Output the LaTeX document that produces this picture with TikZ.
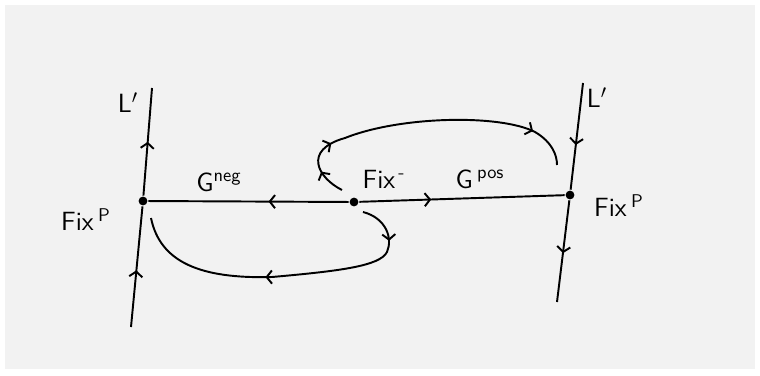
\documentclass[tikz,border=0pt]{standalone}
\usepackage{tikz}
\usetikzlibrary{arrows.meta,decorations.markings,positioning}

\begin{document}
\begin{tikzpicture}[x=0.02cm,y=-0.02cm,line width=1.1pt,
	fix/.style={circle,fill,inner sep=0pt,minimum size=5pt},
	lbl/.style={font=\sffamily\fontsize{15}{18}\selectfont,inner sep=1pt},
	mid/.style={postaction={decorate,decoration={markings,
		mark=at position #1 with {\arrow{Straight Barb[length=3pt,width=7.5pt]}}}}}]
	\useasboundingbox (0,0) rectangle (760,375);
	\fill[black!5] (5,5) rectangle (755,369);

	\node[fix] (fixPl) at (143,201) {};
	\node[fix] (fixM) at (354,202) {};
	\node[fix] (fixPr) at (570,195) {};

	\coordinate (Ltop) at (152,88);
	\coordinate (Lbot) at (131,327);
	\coordinate (Rtop) at (583,83);
	\coordinate (Rbot) at (557,302);

	\node[lbl] (Ll) at (128,103) {L$'$};
	\node[lbl] (Lr) at (597,98) {L$'$};
	\node[lbl] (fixPlLbl) at (86,220) {Fix\,\textsuperscript{P}};
	\node[lbl] (fixPrLbl) at (619,206) {Fix\,\textsuperscript{P}};
	\node[lbl] (fixMLbl) at (384,179) {Fix\textsuperscript{\,-}};
	\node[lbl] (gneg) at (219,182) {G\textsuperscript{neg}};
	\node[lbl] (gpos) at (480,179) {G\,\textsuperscript{pos}};

	\path[draw]
	(fixPl) edge [mid=0.5] (Ltop)
	(Lbot) edge [mid=0.47] (fixPl)
	(Rtop) edge [mid=0.58] (fixPr)
	(fixPr) edge [mid=0.52] (Rbot)

	(fixM) edge [mid=0.4] (fixPl)
	(fixM) edge [mid=0.35] (fixPr)
	;

	% orbit above G^pos
	\coordinate (up0) at (342,190);
	\coordinate (up1) at (557,165);
	\draw[mid=0.09,mid=0.2,mid=0.86] (up0) .. controls (318,178) and (302,150) .. (345,138)
		.. controls (400,116) and (500,114) .. (535,132)
		.. controls (552,142) and (557,155) .. (up1);

	% orbit below G^neg
	\coordinate (dn0) at (363,212);
	\coordinate (dn1) at (151,218);
	\draw[mid=0.13,mid=0.56] (dn0) .. controls (386,218) and (393,238) .. (387,252)
		.. controls (380,266) and (340,271) .. (272,277)
		.. controls (200,279) and (160,262) .. (dn1);
\end{tikzpicture}
\end{document}
